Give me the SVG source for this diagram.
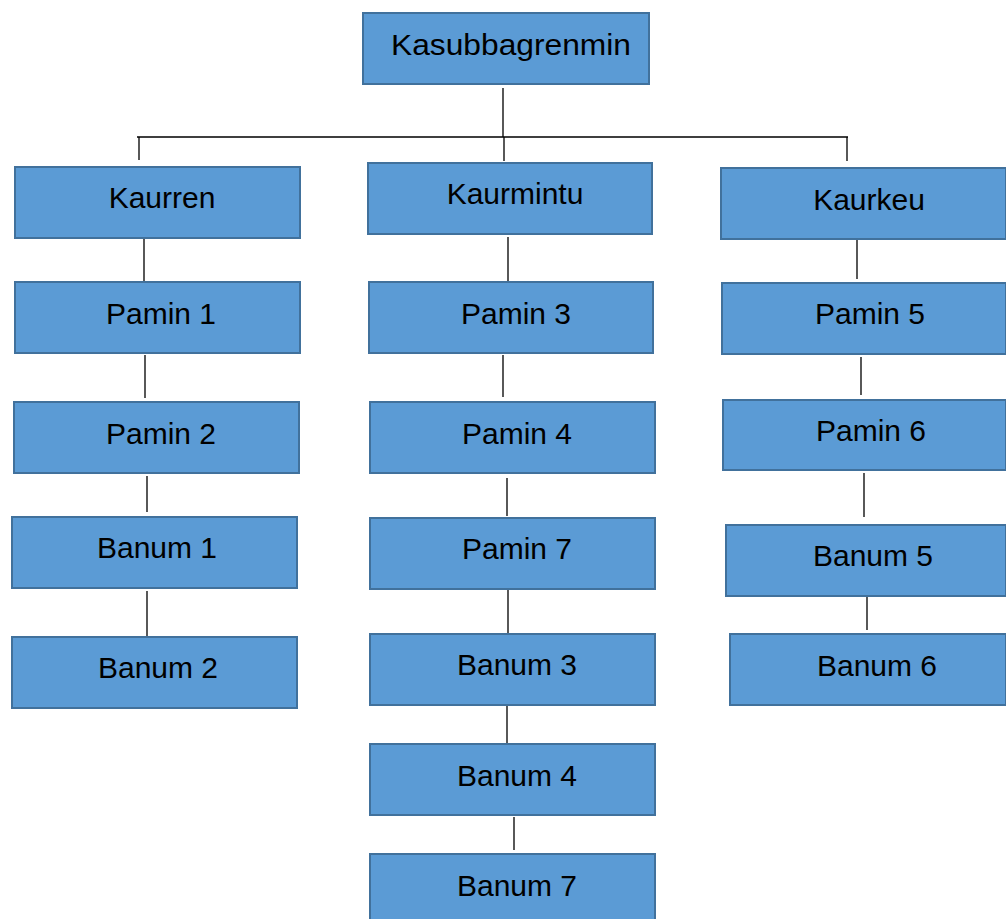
<svg xmlns="http://www.w3.org/2000/svg" width="1006" height="919" viewBox="0 0 1006 919">
<style>
.b{fill:#5B9BD5;stroke:#41719C;stroke-width:2}
.t{font-family:"Liberation Sans",Arial,sans-serif;font-size:30px;fill:#000;text-anchor:middle}
.c{stroke:#000;stroke-width:1.3;fill:none}
</style>
<rect width="1006" height="919" fill="#fff"/>
<g id="connectors">
<path class="c" d="M503 88V137M137 137H848M139 137V160M504 137V161M847 137V161"/>
<path class="c" d="M144 238V282M145 355V398M147 476V512M147 591V636"/>
<path class="c" d="M508 237V281M503 355V397M507 478V516M508 590V634M507 706V743M514 817V850"/>
<path class="c" d="M857 234V279M861 357V395M864 473V517M867 593V630"/>
</g>
<g id="n0"><rect class="b" x="363" y="13" width="286" height="71"/><text class="t" x="511" y="55" textLength="240" lengthAdjust="spacingAndGlyphs">Kasubbagrenmin</text></g>
<g id="n1"><rect class="b" x="15" y="167" width="285" height="71"/><text class="t" x="162" y="208">Kaurren</text></g>
<g id="n2"><rect class="b" x="368" y="163" width="284" height="71"/><text class="t" x="515" y="204">Kaurmintu</text></g>
<g id="n3"><rect class="b" x="721" y="168" width="285" height="71"/><text class="t" x="869" y="210">Kaurkeu</text></g>
<g id="n4"><rect class="b" x="15" y="282" width="285" height="71"/><text class="t" x="161" y="324">Pamin 1</text></g>
<g id="n5"><rect class="b" x="369" y="282" width="284" height="71"/><text class="t" x="516" y="324">Pamin 3</text></g>
<g id="n6"><rect class="b" x="722" y="283" width="284" height="71"/><text class="t" x="870" y="324">Pamin 5</text></g>
<g id="n7"><rect class="b" x="14" y="402" width="285" height="71"/><text class="t" x="161" y="444">Pamin 2</text></g>
<g id="n8"><rect class="b" x="370" y="402" width="285" height="71"/><text class="t" x="517" y="444">Pamin 4</text></g>
<g id="n9"><rect class="b" x="723" y="400" width="283" height="70"/><text class="t" x="871" y="441">Pamin 6</text></g>
<g id="n10"><rect class="b" x="12" y="517" width="285" height="71"/><text class="t" x="157" y="558">Banum 1</text></g>
<g id="n11"><rect class="b" x="370" y="518" width="285" height="71"/><text class="t" x="517" y="559">Pamin 7</text></g>
<g id="n12"><rect class="b" x="726" y="525" width="280" height="71"/><text class="t" x="873" y="566">Banum 5</text></g>
<g id="n13"><rect class="b" x="12" y="637" width="285" height="71"/><text class="t" x="158" y="678">Banum 2</text></g>
<g id="n14"><rect class="b" x="370" y="634" width="285" height="71"/><text class="t" x="517" y="675">Banum 3</text></g>
<g id="n15"><rect class="b" x="730" y="634" width="276" height="71"/><text class="t" x="877" y="676">Banum 6</text></g>
<g id="n16"><rect class="b" x="370" y="744" width="285" height="71"/><text class="t" x="517" y="786">Banum 4</text></g>
<g id="n17"><rect class="b" x="370" y="854" width="285" height="75"/><text class="t" x="517" y="896">Banum 7</text></g>
</svg>
